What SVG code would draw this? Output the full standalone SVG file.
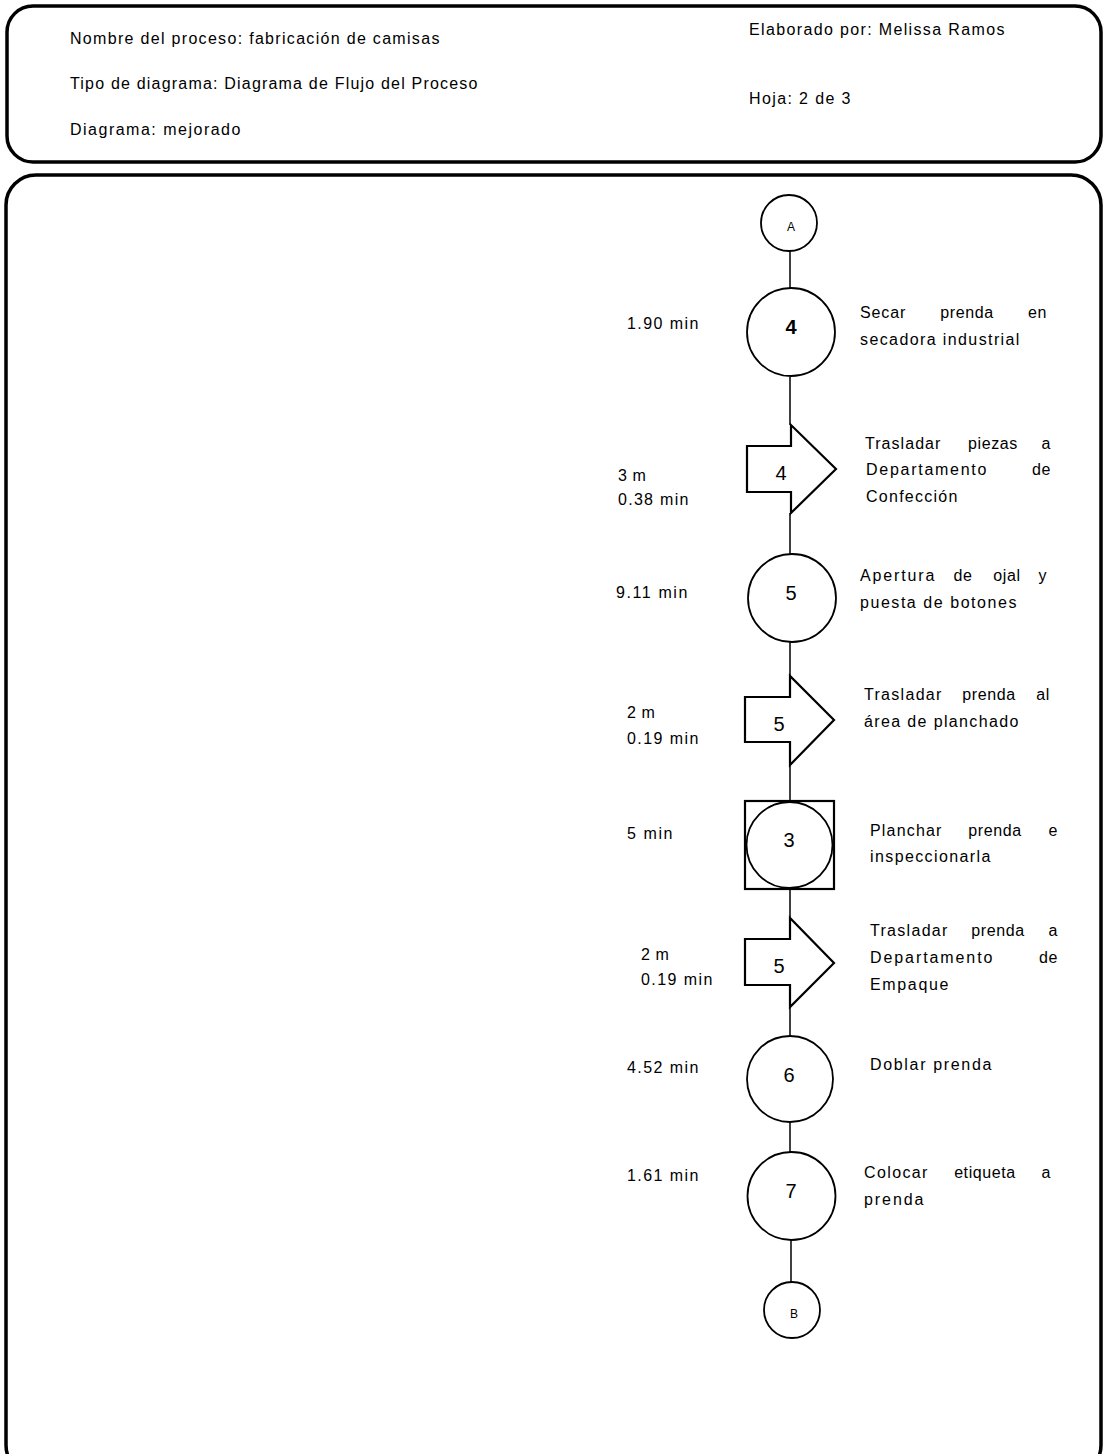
<svg xmlns="http://www.w3.org/2000/svg" width="1103" height="1454" viewBox="0 0 1103 1454">
  <style>
    .frame { fill: none; stroke: #000; stroke-width: 3.5; }
    .shape { fill: #fff; stroke: #000; stroke-width: 1.8; }
    .arrow { fill: #fff; stroke: #000; stroke-width: 2.2; stroke-linejoin: miter; }
    .link { stroke: #000; stroke-width: 1.5; fill: none; }
    text { font-family: "Liberation Sans", Arial, sans-serif; fill: #000; }
    .t { font-size: 16px; letter-spacing: 0.6px; }
    .num { font-size: 20px; text-anchor: middle; }
    .conn { font-size: 12px; text-anchor: middle; }
    .m { text-anchor: middle; }
    .e { text-anchor: end; }
  </style>

  <!-- header frame -->
  <g id="header">
    <rect class="frame" x="7" y="6" width="1094" height="156" rx="26" ry="26"/>
    <text class="t" x="70" y="44" textLength="370" lengthAdjust="spacing">Nombre del proceso: fabricación de camisas</text>
    <text class="t" x="70" y="89" textLength="408" lengthAdjust="spacing">Tipo de diagrama: Diagrama de Flujo del Proceso</text>
    <text class="t" x="70" y="135" textLength="171" lengthAdjust="spacing">Diagrama: mejorado</text>
    <text class="t" x="749" y="35" textLength="256" lengthAdjust="spacing">Elaborado por: Melissa Ramos</text>
    <text class="t" x="749" y="104" textLength="102" lengthAdjust="spacing">Hoja: 2 de 3</text>
  </g>

  <!-- body frame (runs past the bottom edge) -->
  <rect class="frame" x="6" y="175" width="1095" height="1300" rx="30" ry="30"/>

  <!-- connectors -->
  <g id="connectors">
    <line class="link" x1="790" y1="251" x2="790" y2="288"/>
    <line class="link" x1="790" y1="377" x2="790" y2="425"/>
    <line class="link" x1="790" y1="513" x2="790" y2="555"/>
    <line class="link" x1="790" y1="641" x2="790" y2="676"/>
    <line class="link" x1="790" y1="765" x2="790" y2="801"/>
    <line class="link" x1="790" y1="889" x2="790" y2="918"/>
    <line class="link" x1="790" y1="1007" x2="790" y2="1036"/>
    <line class="link" x1="790" y1="1122" x2="790" y2="1152"/>
    <line class="link" x1="791" y1="1240" x2="791" y2="1283"/>
  </g>

  <!-- connector A -->
  <g id="conn-A">
    <circle class="shape" cx="789" cy="223" r="28"/>
    <text class="conn" x="791" y="231">A</text>
  </g>

  <!-- operation 4 -->
  <g id="op-4">
    <circle class="shape" cx="791" cy="332" r="44"/>
    <text class="num" x="791" y="334" font-weight="bold">4</text>
    <text class="t" x="627" y="329" textLength="72" lengthAdjust="spacing">1.90 min</text>
    <text class="t" y="318"><tspan x="860" textLength="46" lengthAdjust="spacing">Secar</tspan><tspan class="m" x="967">prenda</tspan><tspan class="e" x="1047">en</tspan></text>
    <text class="t" x="860" y="345" textLength="160" lengthAdjust="spacing">secadora industrial</text>
  </g>

  <!-- transport 4 -->
  <g id="tr-4">
    <path class="arrow" d="M747,446 L791,446 L791,425 L836,469 L791,513 L791,492 L747,492 Z"/>
    <text class="num" x="781" y="480">4</text>
    <text class="t" x="618" y="481">3 m</text>
    <text class="t" x="618" y="505" textLength="71" lengthAdjust="spacing">0.38 min</text>
    <text class="t" y="449"><tspan x="865" textLength="76" lengthAdjust="spacing">Trasladar</tspan><tspan class="m" x="993">piezas</tspan><tspan class="e" x="1051">a</tspan></text>
    <text class="t" y="475"><tspan x="866" textLength="121" lengthAdjust="spacing">Departamento</tspan><tspan class="e" x="1051">de</tspan></text>
    <text class="t" x="866" y="502" textLength="92" lengthAdjust="spacing">Confección</text>
  </g>

  <!-- operation 5 -->
  <g id="op-5">
    <circle class="shape" cx="792" cy="598" r="44"/>
    <text class="num" x="791" y="600">5</text>
    <text class="t" x="616" y="598" textLength="72" lengthAdjust="spacing">9.11 min</text>
    <text class="t" y="581"><tspan x="860" textLength="75" lengthAdjust="spacing">Apertura</tspan><tspan class="m" x="963">de</tspan><tspan class="m" x="1007">ojal</tspan><tspan class="e" x="1047">y</tspan></text>
    <text class="t" x="860" y="608" textLength="157" lengthAdjust="spacing">puesta de botones</text>
  </g>

  <!-- transport 5 -->
  <g id="tr-5a">
    <path class="arrow" d="M745,697 L790,697 L790,676 L834,720 L790,765 L790,742 L745,742 Z"/>
    <text class="num" x="779" y="731">5</text>
    <text class="t" x="627" y="718">2 m</text>
    <text class="t" x="627" y="744" textLength="72" lengthAdjust="spacing">0.19 min</text>
    <text class="t" y="700"><tspan x="864" textLength="78" lengthAdjust="spacing">Trasladar</tspan><tspan class="m" x="989">prenda</tspan><tspan class="e" x="1050">al</tspan></text>
    <text class="t" x="864" y="727" textLength="155" lengthAdjust="spacing">área de planchado</text>
  </g>

  <!-- combined operation / inspection 3 -->
  <g id="comb-3">
    <rect class="arrow" x="745" y="801" width="89" height="88"/>
    <circle class="shape" cx="789.5" cy="845" r="43"/>
    <text class="num" x="789" y="847">3</text>
    <text class="t" x="627" y="839" textLength="46" lengthAdjust="spacing">5 min</text>
    <text class="t" y="836"><tspan x="870" textLength="72" lengthAdjust="spacing">Planchar</tspan><tspan class="m" x="995">prenda</tspan><tspan class="e" x="1058">e</tspan></text>
    <text class="t" x="870" y="862" textLength="121" lengthAdjust="spacing">inspeccionarla</text>
  </g>

  <!-- transport 5 (second) -->
  <g id="tr-5b">
    <path class="arrow" d="M745,939 L790,939 L790,918 L834,963 L790,1007 L790,985 L745,985 Z"/>
    <text class="num" x="779" y="973">5</text>
    <text class="t" x="641" y="960">2 m</text>
    <text class="t" x="641" y="985" textLength="72" lengthAdjust="spacing">0.19 min</text>
    <text class="t" y="936"><tspan x="870" textLength="78" lengthAdjust="spacing">Trasladar</tspan><tspan class="m" x="998">prenda</tspan><tspan class="e" x="1058">a</tspan></text>
    <text class="t" y="963"><tspan x="870" textLength="123" lengthAdjust="spacing">Departamento</tspan><tspan class="e" x="1058">de</tspan></text>
    <text class="t" x="870" y="990" textLength="79" lengthAdjust="spacing">Empaque</text>
  </g>

  <!-- operation 6 -->
  <g id="op-6">
    <circle class="shape" cx="790" cy="1079" r="43"/>
    <text class="num" x="789" y="1082">6</text>
    <text class="t" x="627" y="1073" textLength="72" lengthAdjust="spacing">4.52 min</text>
    <text class="t" x="870" y="1070" textLength="122" lengthAdjust="spacing">Doblar prenda</text>
  </g>

  <!-- operation 7 -->
  <g id="op-7">
    <circle class="shape" cx="791.5" cy="1196" r="44"/>
    <text class="num" x="791" y="1198">7</text>
    <text class="t" x="627" y="1181" textLength="72" lengthAdjust="spacing">1.61 min</text>
    <text class="t" y="1178"><tspan x="864" textLength="64" lengthAdjust="spacing">Colocar</tspan><tspan class="m" x="985">etiqueta</tspan><tspan class="e" x="1051">a</tspan></text>
    <text class="t" x="864" y="1205" textLength="60" lengthAdjust="spacing">prenda</text>
  </g>

  <!-- connector B -->
  <g id="conn-B">
    <circle class="shape" cx="792" cy="1310" r="28"/>
    <text class="conn" x="794" y="1318">B</text>
  </g>
</svg>
